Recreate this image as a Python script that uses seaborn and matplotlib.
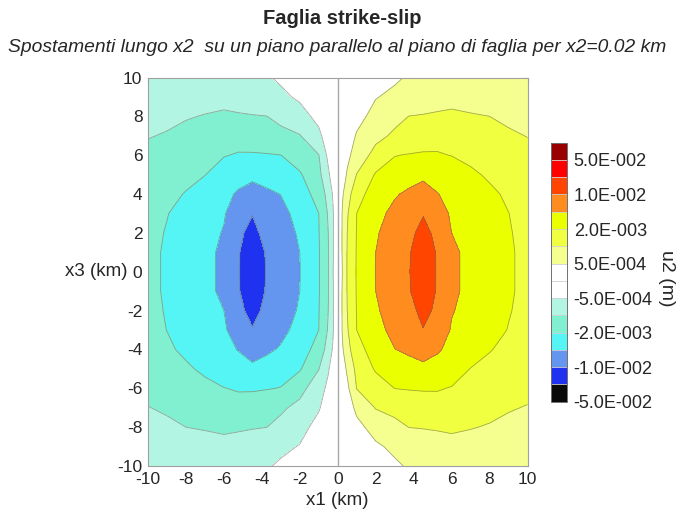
import numpy as np
import matplotlib
matplotlib.use("Agg")
import matplotlib.pyplot as plt
import seaborn as sns

# ---------------- data ----------------
# right half (x1 >= 0) node positions, km
x1_right = [0, 0.25, 0.5, 1, 2, 3, 3.75, 4.5, 5.25, 6, 7, 8, 9, 10]
# depth nodes, km (bottom to top)
x3_nodes = list(range(-10, 11))
# u2 displacement in mm on the right half, one row per x3 node (x3 = -10 ... 10)
u2_mm_right = [
    [0, 0.04, 0.08, 0.15, 0.30, 0.44, 0.54, 0.61, 0.68, 0.75, 0.78, 0.73, 0.68, 0.63],
    [0, 0.06, 0.11, 0.22, 0.44, 0.58, 0.66, 0.74, 0.81, 0.89, 0.85, 0.81, 0.77, 0.73],
    [0, 0.10, 0.19, 0.39, 0.65, 0.88, 1.01, 1.05, 1.09, 1.11, 1.04, 0.97, 0.91, 0.85],
    [0, 0.15, 0.30, 0.59, 1.05, 1.25, 1.39, 1.54, 1.68, 1.55, 1.39, 1.23, 1.06, 0.98],
    [0, 0.19, 0.39, 1.03, 1.54, 2.03, 2.18, 2.24, 2.18, 1.96, 1.77, 1.58, 1.39, 1.20],
    [0, 0.28, 0.58, 1.27, 2.30, 3.11, 3.71, 4.31, 4.04, 3.17, 1.98, 1.80, 1.60, 1.40],
    [0, 0.45, 0.83, 1.66, 3.32, 4.95, 6.00, 7.00, 5.50, 4.34, 3.23, 2.12, 1.81, 1.60],
    [0, 0.55, 0.95, 2.00, 4.13, 6.30, 7.90, 9.90, 8.00, 4.76, 3.80, 2.87, 1.97, 1.72],
    [0, 0.56, 1.00, 2.12, 4.64, 7.20, 9.10, 11.6, 9.45, 5.30, 4.07, 3.11, 2.15, 1.77],
    [0, 0.56, 1.05, 2.21, 5.00, 7.70, 9.75, 13.5, 9.75, 6.00, 4.22, 3.26, 2.30, 1.80],
    [0, 0.52, 1.07, 2.24, 5.10, 7.80, 9.85, 14.0, 9.75, 6.00, 4.22, 3.26, 2.30, 1.80],
    [0, 0.56, 1.05, 2.21, 5.00, 7.70, 9.75, 13.5, 9.75, 6.00, 4.22, 3.26, 2.30, 1.80],
    [0, 0.56, 1.00, 2.12, 4.70, 7.30, 9.20, 12.0, 9.15, 5.00, 4.07, 3.14, 2.18, 1.77],
    [0, 0.55, 0.95, 2.00, 4.07, 6.30, 8.05, 9.80, 6.80, 4.70, 3.80, 2.93, 2.03, 1.72],
    [0, 0.45, 0.78, 1.68, 3.23, 4.70, 5.90, 7.10, 5.15, 4.34, 3.41, 2.48, 1.87, 1.60],
    [0, 0.28, 0.55, 1.03, 2.27, 3.11, 3.74, 4.37, 4.04, 3.38, 2.45, 1.88, 1.64, 1.40],
    [0, 0.19, 0.39, 0.71, 1.32, 1.97, 2.15, 2.30, 2.21, 1.98, 1.79, 1.59, 1.40, 1.20],
    [0, 0.14, 0.28, 0.54, 0.87, 1.15, 1.34, 1.53, 1.70, 1.57, 1.41, 1.25, 1.10, 0.99],
    [0, 0.09, 0.18, 0.36, 0.64, 0.87, 1.01, 1.06, 1.11, 1.12, 1.06, 1.00, 0.93, 0.85],
    [0, 0.06, 0.12, 0.24, 0.48, 0.59, 0.67, 0.75, 0.83, 0.90, 0.86, 0.81, 0.77, 0.73],
    [0, 0.04, 0.08, 0.15, 0.30, 0.44, 0.54, 0.61, 0.68, 0.75, 0.78, 0.73, 0.68, 0.63],
]
# contour levels (mm, magnitude) and the colour of each band
level_mm = [0, 0.5, 1, 2, 5, 10, 20, 50, 100]
band_colors = ["#0a0a0a", "#1e32f0", "#6496f0", "#55f5f5", "#80f0d0", "#b2f5e2",
               "#ffffff", "#ffffff",
               "#f5ff90", "#f0ff40", "#eaff00", "#ff8c1e", "#ff4500", "#ff0000", "#990000"]
cbar_ticks = [-7, -5, -3, -1, 1, 3, 5, 7]
cbar_labels = ["-5.0E-002", "-1.0E-002", "-2.0E-003", "-5.0E-004",
               "5.0E-004", "2.0E-003", "1.0E-002", "5.0E-002"]
x_ticks = list(range(-10, 11, 2))
y_ticks = list(range(-10, 11, 2))

# ---------------- field: left half by point symmetry u(-x,-z) = -u(x,z) ----------------
R = np.array(u2_mm_right)
xr = np.array(x1_right, dtype=float)
L = -R[::-1, :0:-1]
U = np.hstack([L, R])
X = np.concatenate([-xr[:0:-1], xr])
Z = np.array(x3_nodes, dtype=float)
level_idx = np.arange(len(level_mm))
IDX = np.sign(U) * np.interp(np.abs(U), level_mm, level_idx)

# ---------------- plotting ----------------
sns.set_style("white")
plt.rcParams["font.family"] = ["Liberation Sans", "DejaVu Sans"]
plt.rcParams["axes.unicode_minus"] = False

fig = plt.figure(figsize=(6.84, 5.18), dpi=100)
ax = fig.add_axes([148 / 684, 1 - 466 / 518, 379.5 / 684, 388.5 / 518])

levels = np.arange(-7, 9)
cf = ax.contourf(X, Z, IDX, levels=levels, colors=band_colors)
ax.contour(X, Z, IDX, levels=[-5, -4, -3, -2, -1, 1, 2, 3, 4, 5],
           colors="#707060", linewidths=0.6, alpha=0.6,
           linestyles="solid", negative_linestyles="solid")
ax.contour(X, Z, IDX, levels=[0], colors="#a8a8a8", linewidths=1.0,
           linestyles="solid")

ax.set_xlim(-10, 10)
ax.set_ylim(-10, 10)
ax.set_xticks(x_ticks)
ax.set_yticks(y_ticks)
ax.tick_params(direction="in", length=4, width=0.8, color="#909090",
               top=True, right=True, labelsize=12.5, pad=4)
for s in ax.spines.values():
    s.set_color("#a0a0a0")
    s.set_linewidth(0.8)

ax.set_xlabel("x1 (km)", fontsize=13.5)
ax.xaxis.set_label_coords(0.5, -0.068)
ax.set_ylabel("x3 (km)", fontsize=13.5, rotation=0, ha="right", va="center")
ax.yaxis.set_label_coords(-0.053, 0.5)

fig.text(342 / 684, 1 - 18 / 518, "Faglia strike-slip", ha="center", va="center",
         fontsize=14.5, fontweight="bold")
fig.text(337 / 684, 1 - 48 / 518,
         "Spostamenti lungo x2  su un piano parallelo al piano di faglia per x2=0.02 km",
         ha="center", va="center", fontsize=13.9, fontstyle="italic")

cax = fig.add_axes([550.7 / 684, 1 - 401.7 / 518, 16 / 684, 259 / 518])
cb = fig.colorbar(cf, cax=cax, ticks=cbar_ticks, drawedges=True)
cb.ax.set_yticklabels(cbar_labels)
cb.ax.tick_params(length=0, labelsize=13, pad=5)
cb.outline.set_edgecolor("#707070")
cb.outline.set_linewidth(0.7)
cb.dividers.set_color("#d0d0d0")
cb.dividers.set_linewidth(0.6)
fig.text(667 / 684, 1 - 278 / 518, "u2 (m)", rotation=270, ha="center", va="center",
         fontsize=14)

fig.savefig("out.png", dpi=100)
